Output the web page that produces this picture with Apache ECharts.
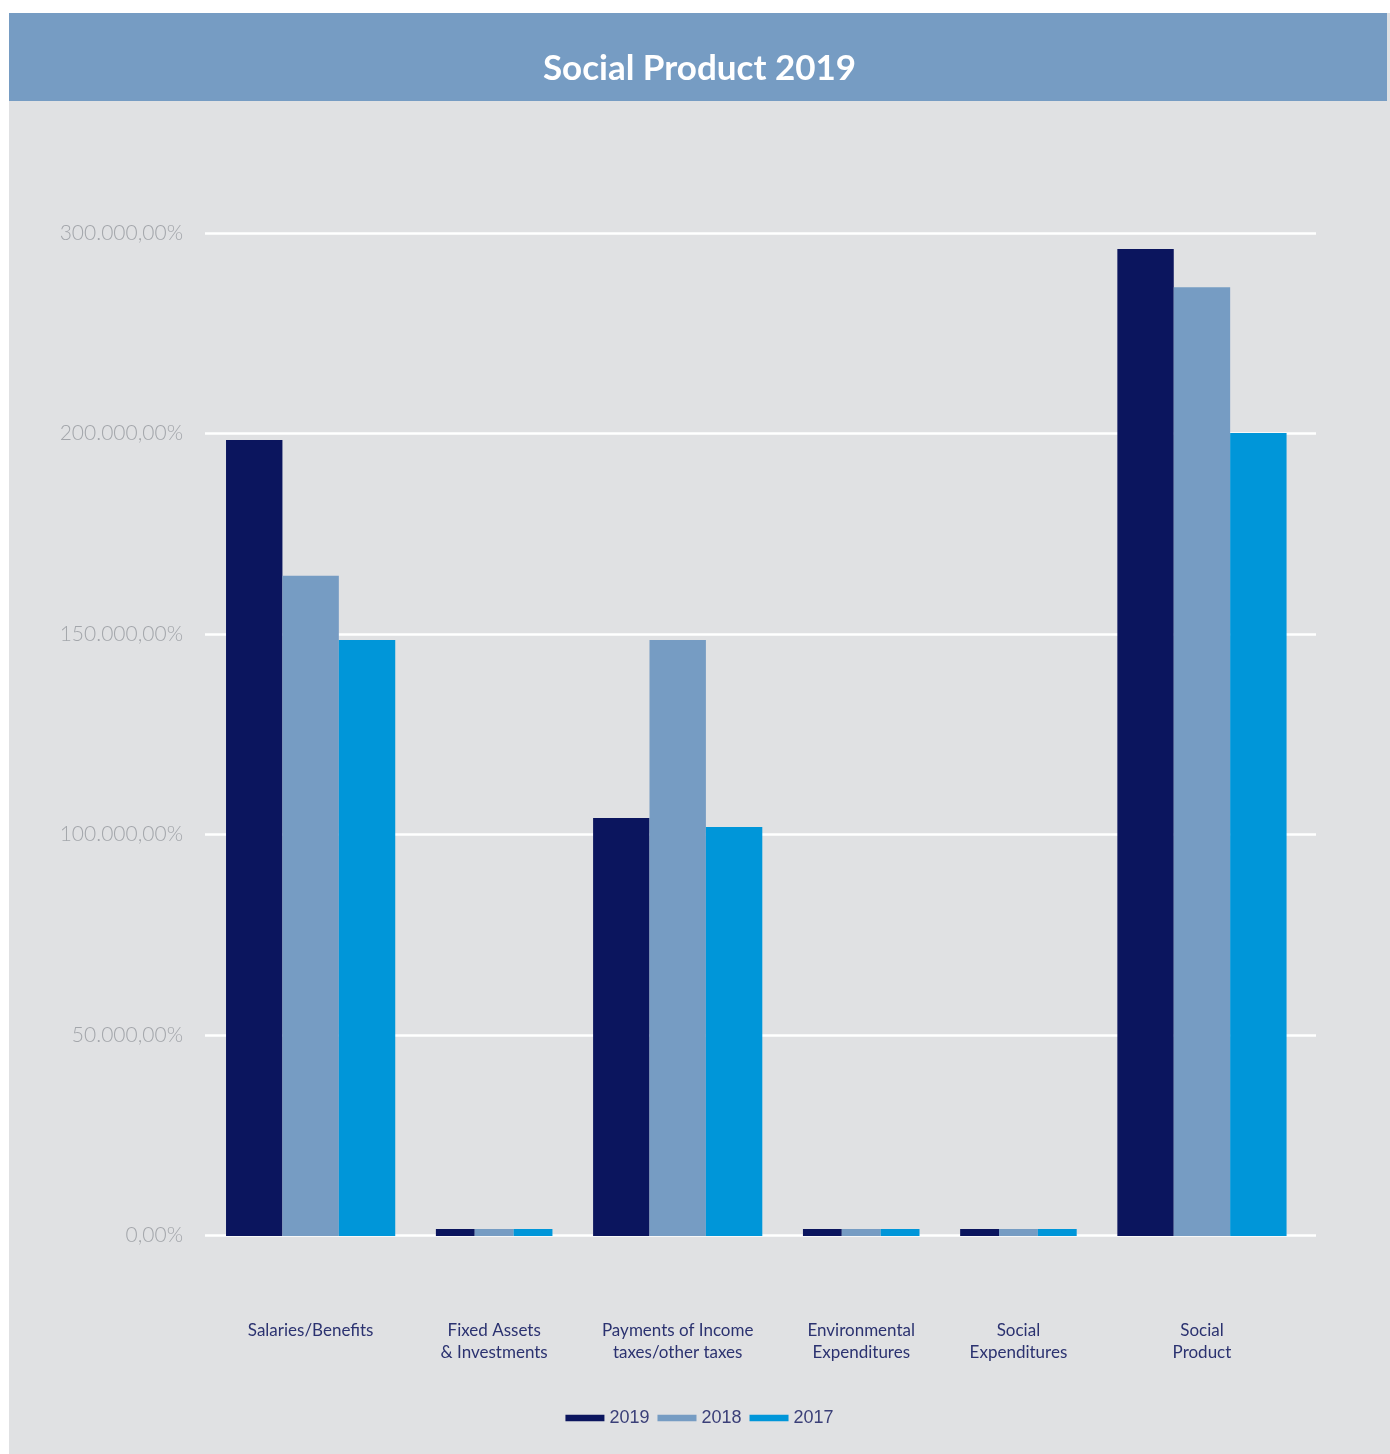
<!DOCTYPE html>
<html>
<head>
    <meta charset="utf-8">
    <title>Social Product 2019</title>
    <script src="https://cdn.jsdelivr.net/npm/echarts@6/dist/echarts.min.js"></script>
    <style>
        body { margin: 0; background: #ffffff; }
        #main { position: absolute; left: 9px; top: 13px; width: 1381px; height: 1441px; background: #e0e1e3; }
    </style>
</head>
<body>
    <div id="main"></div>

    <script type="text/javascript">
        // categories and values (y units: thousands, as positioned on the axis)
        var categories = [
            'Salaries/Benefits',
            'Fixed Assets\n& Investments',
            'Payments of Income\ntaxes/other taxes',
            'Environmental\nExpenditures',
            'Social\nExpenditures',
            'Social\nProduct'
        ];
        var years = ['2019', '2018', '2017'];
        var values2019 = [198.4, 1.6, 104.1, 1.6, 1.6, 246.0];
        var values2018 = [164.5, 1.6, 148.5, 1.6, 1.6, 236.5];
        var values2017 = [148.5, 1.6, 101.9, 1.6, 1.6, 200.1];
        var yTickLabels = ['0,00%', '50.000,00%', '100.000,00%', '150.000,00%', '200.000,00%', '300.000,00%'];

        var seriesValues = [values2019, values2018, values2017];
        var colors = ['#0b155e', '#769cc3', '#0096d9'];

        // group layout along a hidden value x axis (units ~ pixels of plot width)
        var BAR_BIG = 56.33, BAR_SMALL = 38.8, GAP = 40.6, PAD_LEFT = 21, PAD_RIGHT = 29.4;

        function barWidth(i) {
            var m = Math.max(values2019[i], values2018[i], values2017[i]);
            return m < 10 ? BAR_SMALL : BAR_BIG;
        }

        var groupStart = [];
        var cursor = PAD_LEFT;
        categories.forEach(function (c, i) {
            groupStart.push(cursor);
            cursor += years.length * barWidth(i) + (i < categories.length - 1 ? GAP : 0);
        });
        var xMax = cursor + PAD_RIGHT;

        var dom = document.getElementById('main');
        var myChart = echarts.init(dom);

        var series = years.map(function (year, j) {
            return {
                name: year,
                type: 'custom',
                itemStyle: { color: colors[j] },
                encode: { x: 0, y: 1 },
                data: seriesValues[j].map(function (v, i) { return [i, v]; }),
                renderItem: function (params, api) {
                    var i = api.value(0);
                    var w = barWidth(i);
                    var x0 = groupStart[i] + j * w;
                    var p0 = api.coord([x0, api.value(1)]);
                    var p1 = api.coord([x0 + w, 0]);
                    return {
                        type: 'rect',
                        shape: { x: p0[0], y: p0[1], width: p1[0] - p0[0], height: p1[1] - p0[1] + 0.5 },
                        style: { fill: colors[j] }
                    };
                },
                z: 3
            };
        });

        // category labels under each group
        series.push({
            type: 'custom',
            silent: true,
            encode: { x: 0, y: 1 },
            data: categories.map(function (c, i) { return [i, 0]; }),
            renderItem: function (params, api) {
                var i = api.value(0);
                var center = groupStart[i] + years.length * barWidth(i) / 2;
                var p = api.coord([center, 0]);
                return {
                    type: 'text',
                    x: p[0],
                    y: p[1] + 84,
                    style: {
                        text: categories[i],
                        fill: '#2b3270',
                        fontSize: 17,
                        fontFamily: 'Lato',
                        align: 'center',
                        verticalAlign: 'top',
                        lineHeight: 22
                    }
                };
            }
        });

        var option = {
            animation: false,
            graphic: [{
                type: 'rect',
                silent: true,
                shape: { x: 0, y: 0, width: 1378, height: 88 },
                style: { fill: '#769cc3' },
                z: 0
            }],
            title: {
                text: 'Social Product 2019',
                left: 'center',
                top: 38,
                padding: 0,
                textStyle: {
                    color: '#ffffff',
                    fontSize: 35,
                    fontWeight: 'bold',
                    fontFamily: 'Lato'
                },
                z: 10
            },
            legend: {
                data: years,
                left: 'center',
                top: 1391,
                icon: 'rect',
                itemWidth: 39,
                itemHeight: 6.5,
                itemGap: 8,
                textStyle: {
                    color: '#3a3f78',
                    fontSize: 18,
                    fontFamily: 'Liberation Sans'
                }
            },
            grid: {
                left: 196,
                right: 74,
                top: 220,
                bottom: 218.5
            },
            xAxis: {
                type: 'value',
                min: 0,
                max: xMax,
                show: false,
                splitLine: { show: false }
            },
            yAxis: {
                type: 'value',
                min: 0,
                max: 250,
                interval: 50,
                axisLine: { show: false },
                axisTick: { show: false },
                axisLabel: {
                    margin: 22,
                    color: '#a3a6ab',
                    fontSize: 21,
                    fontWeight: 300,
                    fontFamily: 'Lato',
                    formatter: function (v) { return yTickLabels[Math.round(v / 50)]; }
                },
                splitLine: { lineStyle: { color: '#ffffff', width: 2.5 } }
            },
            series: series
        };

        if (option && typeof option === 'object') {
            myChart.setOption(option, true);
        }
    </script>
</body>
</html>
